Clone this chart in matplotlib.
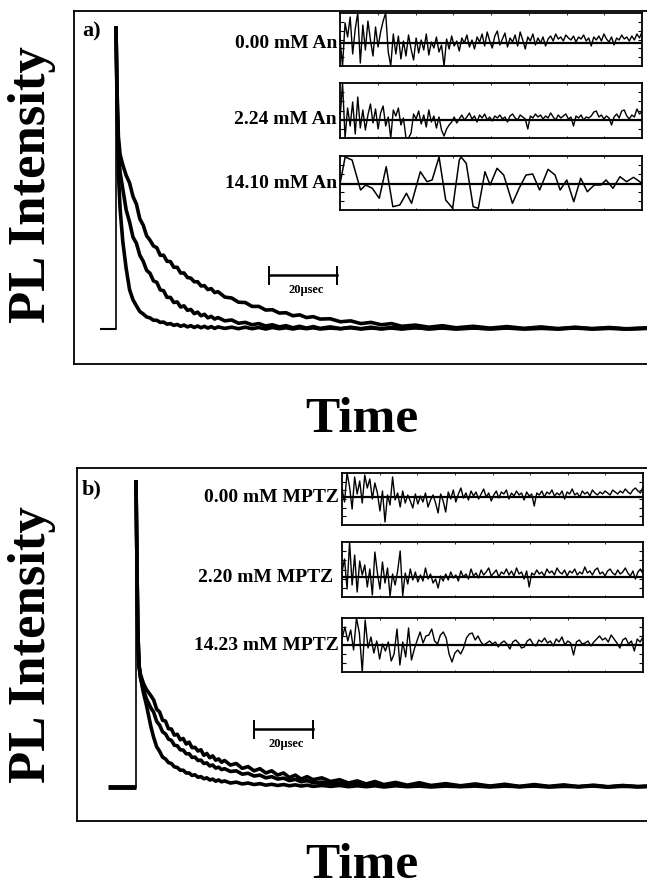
import numpy as np
import matplotlib
matplotlib.use("Agg")
import matplotlib.pyplot as plt

plt.rcParams['font.family'] = ['Liberation Serif', 'DejaVu Serif']
plt.rcParams['font.weight'] = 'bold'

W, H = 647, 890

# ---------------- data: panel a decay curves (time in usec, normalised PL) ----
a_t = ([0, 0.3, 0.7, 1.2, 2, 3, 4, 5] + list(range(6, 31)) + list(range(32, 61, 2))
       + list(range(63, 85, 3)) + [88, 92, 96, 100] + list(range(105, 151, 5)) + [157])
a_top_i = [1.0, 0.80, 0.64, 0.58, 0.545, 0.51, 0.485, 0.44,
           0.415, 0.366, 0.345, 0.31, 0.295, 0.276, 0.27, 0.245, 0.245, 0.225, 0.224, 0.205, 0.205,
           0.186, 0.186, 0.171, 0.169, 0.157, 0.157, 0.143, 0.144, 0.131, 0.134, 0.121, 0.124,
           0.106, 0.103, 0.089, 0.088, 0.075, 0.075, 0.063, 0.064, 0.053, 0.054, 0.044, 0.047, 0.038,
           0.041, 0.033,
           0.034, 0.024, 0.027, 0.018, 0.022, 0.014, 0.018, 0.009,
           0.013, 0.006, 0.011, 0.004,
           0.009, 0.003, 0.008, 0.002, 0.007, 0.001, 0.006, 0.001, 0.005, 0.0,
           0.004]
a_mid_i = [1.0, 0.78, 0.60, 0.52, 0.465, 0.395, 0.355, 0.305,
           0.285, 0.245, 0.225, 0.195, 0.185, 0.16, 0.155, 0.13, 0.127, 0.105, 0.105, 0.088, 0.09,
           0.073, 0.077, 0.062, 0.065, 0.051, 0.056, 0.044, 0.049, 0.037, 0.042, 0.033, 0.038,
           0.027, 0.03, 0.019, 0.022, 0.014, 0.018, 0.01, 0.014, 0.007, 0.011, 0.004, 0.009, 0.003,
           0.008, 0.002,
           0.007, 0.001, 0.006, 0.001, 0.006, 0.0, 0.005, 0.001,
           0.005, 0.0, 0.004, 0.001,
           0.004, 0.0, 0.004, 0.001, 0.003, 0.0, 0.004, 0.001, 0.003, 0.0,
           0.003]
a_low_i = [1.0, 0.75, 0.52, 0.40, 0.29, 0.20, 0.13, 0.097,
           0.077, 0.058, 0.05, 0.04, 0.037, 0.029, 0.029, 0.022, 0.023, 0.016, 0.018, 0.012, 0.015,
           0.009, 0.013, 0.007, 0.011, 0.005, 0.01, 0.004, 0.009, 0.003, 0.008, 0.002, 0.007,
           0.002, 0.006, 0.001, 0.006, 0.001, 0.005, 0.0, 0.005, 0.001, 0.004, 0.0, 0.004, 0.001,
           0.004, 0.0,
           0.003, 0.001, 0.004, 0.0, 0.003, 0.001, 0.003, 0.0,
           0.004, 0.001, 0.003, 0.0,
           0.003, 0.001, 0.003, 0.0, 0.002, 0.001, 0.003, 0.0, 0.002, 0.001,
           0.002]

# ---------------- data: panel b decay curves ----------------
b_t = ([0, 0.3, 0.6, 1.0, 1.5, 2.5, 3.5, 5] + list(range(6, 31)) + list(range(32, 61, 2))
       + list(range(63, 85, 3)) + [88, 92, 96, 100] + list(range(105, 171, 5)) + [175])
b_top_i = [1.0, 0.75, 0.52, 0.40, 0.37, 0.34, 0.32, 0.30,
           0.285, 0.255, 0.246, 0.219, 0.216, 0.191, 0.19, 0.17, 0.173, 0.155, 0.159, 0.141, 0.147,
           0.129, 0.13, 0.118, 0.122, 0.104, 0.11, 0.096, 0.102, 0.088, 0.092, 0.081, 0.087,
           0.072, 0.077, 0.061, 0.067, 0.053, 0.06, 0.046, 0.053, 0.039, 0.046, 0.031, 0.039, 0.026,
           0.034, 0.024,
           0.03, 0.018, 0.024, 0.013, 0.02, 0.01, 0.018, 0.008,
           0.015, 0.006, 0.014, 0.005,
           0.011, 0.004, 0.01, 0.003, 0.009, 0.002, 0.008, 0.002, 0.007, 0.001, 0.006, 0.001, 0.005, 0.001,
           0.003]
b_mid_i = [1.0, 0.75, 0.52, 0.40, 0.36, 0.32, 0.29, 0.26,
           0.245, 0.215, 0.203, 0.181, 0.174, 0.157, 0.153, 0.137, 0.135, 0.122, 0.121, 0.109, 0.109,
           0.097, 0.098, 0.087, 0.088, 0.077, 0.079, 0.069, 0.072, 0.062, 0.065, 0.057, 0.06,
           0.051, 0.053, 0.042, 0.045, 0.036, 0.039, 0.03, 0.034, 0.026, 0.029, 0.021, 0.025, 0.017,
           0.021, 0.014,
           0.016, 0.01, 0.013, 0.008, 0.011, 0.006, 0.01, 0.005,
           0.008, 0.003, 0.007, 0.003,
           0.006, 0.002, 0.006, 0.002, 0.005, 0.001, 0.005, 0.001, 0.004, 0.001, 0.004, 0.0, 0.004, 0.001,
           0.003]
b_low_i = [1.0, 0.75, 0.52, 0.40, 0.36, 0.31, 0.27, 0.20,
           0.162, 0.132, 0.117, 0.098, 0.092, 0.08, 0.077, 0.066, 0.064, 0.055, 0.055, 0.046, 0.046,
           0.038, 0.04, 0.032, 0.034, 0.027, 0.03, 0.023, 0.026, 0.019, 0.023, 0.017, 0.02,
           0.013, 0.016, 0.01, 0.013, 0.008, 0.011, 0.006, 0.009, 0.005, 0.008, 0.004, 0.007, 0.003,
           0.006, 0.002,
           0.005, 0.002, 0.005, 0.001, 0.004, 0.001, 0.004, 0.0,
           0.004, 0.001, 0.003, 0.0,
           0.003, 0.001, 0.003, 0.0, 0.003, 0.001, 0.003, 0.0, 0.002, 0.001, 0.003, 0.0, 0.002, 0.001,
           0.002]

# ---------------- residuals ----------------
a_labels = ["0.00 mM An", "2.24 mM An", "14.10 mM An"]
b_labels = ["0.00 mM MPTZ", "2.20 mM MPTZ", "14.23 mM MPTZ"]
scale_label = "20μsec"

res_a1 = [0.4, -2.3, 2.0, 0.6, 2.6, -1.1, 1.4, 3.0, -2.0, 1.8, -0.7, 2.2, 0.3, -1.3, 1.6, -0.4, 1.1, 2.2,
          3.0, -0.9, -2.3, 0.9, -1.1, 0.7, -1.6, 0.2, -1.3, 0.8, -0.6, -1.7, 0.5, -1.0, 0.3, -0.7, 0.9, -1.2,
          0.1, -0.5, 0.6, -0.9, -0.2, -2.3, 0.4, -0.6, 0.7, -0.3, 0.2, -0.8, 0.5, 0.0, 0.8, -0.4, 0.3, -0.6,
          0.6, 0.1, 0.9, -0.3, 1.1, 0.2, -0.5, 0.7, 1.2, -0.2, 0.4, 1.0, -0.4, 0.5, 0.1, 0.8, -0.3, 1.1,
          0.3, -0.6, 0.6, 0.2, 0.9, -0.2, 0.5, 0.0, 0.6, -0.3, 0.4, 0.7, 0.2, 0.9, 0.4, 0.6, 0.2, 0.8,
          0.5, 0.3, 0.7, 0.1, 0.6, 0.4, 0.8, 0.2, 0.5, -0.3, 0.6, 0.3, 0.7, 0.2, 0.9, 0.4, 0.1, 0.6,
          -0.2, 0.5, 0.3, 0.8, 0.4, 0.6, 0.2, 0.7, 0.3, 0.9, 0.5, 1.1]
res_a2 = [0.0, 3.7, -1.8, 1.2, -0.6, 1.8, -1.4, 2.3, -0.8, 1.0, -1.0, 0.5, 1.6, -0.3, 1.1, -0.9, 0.7, 1.4,
          -0.6, 0.3, -1.8, 1.0, 0.4, 1.2, -0.5, 0.2, -1.8, -1.8, -1.3, 0.6, 0.1, 0.9, -0.4, 0.5, -0.7, 1.0,
          -0.2, 0.4, -0.8, 0.3, -1.0, -1.6, -0.9, -0.5, -0.2, 0.3, -0.3, 0.1, 0.5, 0.0, 0.3, 0.7, 0.1, 0.4,
          -0.2, 0.5, 0.2, 0.6, 0.0, 0.3, -0.1, 0.4, 0.2, 0.5, 0.1, 0.3, -0.2, 0.4, 0.6, 0.2, 0.0, 0.5,
          0.3, 0.1, -0.9, 0.4, 0.2, 0.6, 0.3, 0.5, 0.1, 0.4, 0.2, 0.7, 0.3, 0.0, 0.5, 0.2, 0.4, 0.6,
          0.1, 0.3, -0.6, 0.4, 0.2, 0.5, 0.0, 0.3, 0.2, 0.4, 0.8, 0.9, 0.3, 0.5, 0.1, 0.4, 0.2, -0.5,
          0.3, 0.6, 0.2, 0.9, 1.0, 0.4, 0.1, 0.5, 0.3, 1.1, 0.6, 0.8]
res_a3_x = [0, 0.017, 0.040, 0.068, 0.085, 0.107, 0.130, 0.153, 0.175, 0.198, 0.220, 0.237, 0.266, 0.288,
            0.305, 0.328, 0.350, 0.373, 0.395, 0.401, 0.418, 0.441, 0.458, 0.480, 0.497, 0.520, 0.542,
            0.571, 0.593, 0.616, 0.638, 0.661, 0.689, 0.712, 0.729, 0.751, 0.774, 0.797, 0.819, 0.842,
            0.864, 0.881, 0.904, 0.927, 0.949, 0.972, 1.0]
res_a3 = [0.0, 2.7, 2.4, -0.6, -0.1, -0.43, -1.43, 1.73, -2.27, -2.1, -0.93, -1.93, 1.23, 0.23,
          0.4, 2.7, -1.6, -2.43, 2.4, 2.7, 2.07, -2.27, -2.43, 1.23, -0.1, 1.57, 0.9,
          -1.93, -0.43, 0.9, 1.0, -0.6, 1.47, 0.9, -0.6, 0.4, -1.77, 0.57, -0.77, -0.1,
          -0.1, 0.4, -0.43, 0.73, 0.23, 0.67, 0.07]
res_b1 = [0.8, -0.5, 2.4, 1.0, -1.2, 2.0, 0.3, 1.6, -0.6, 2.2, 0.9, 1.8, -0.2, 1.4, 0.4, -1.4, 0.6, -2.5,
          0.2, -0.8, 2.0, -0.3, 0.4, -1.0, 0.6, -0.6, 0.2, -0.4, -1.1, 0.3, -0.7, 0.1, -0.5, 0.4, -1.0,
          -0.3, 0.2, -0.6, -1.6, 0.3, -0.4, -1.5, 0.5, -0.2, 0.7, -0.5, 0.3, 0.9, -0.1, 0.4, -0.3, 0.6,
          0.1, 0.5, -0.2, 0.3, 0.8, 0.0, 0.4, -0.4, 0.2, 0.6, -0.1, 0.5, 0.3, 0.7, -0.2, 0.4, 0.1, 0.6,
          0.2, 0.4, -0.3, 0.5, 0.1, 0.3, -0.9, 0.4, 0.2, 0.6, 0.0, 0.5, 0.3, 0.7, 0.1, 0.4, 0.2, 0.6,
          -0.2, 0.5, 0.3, 0.8, 0.2, 0.4, 0.0, 0.6, 0.3, 0.5, 0.1, 0.7, 0.4, 0.2, 0.5, 0.3, 0.6, 0.4,
          0.2, 0.7, 0.5, 0.3, 0.6, 0.4, 0.8, 0.5, 0.3, 0.7, 0.9, 0.6, 0.4, 1.0]
res_b2 = [0.5, 1.8, -1.2, 3.5, -0.8, 2.2, -1.5, 1.6, 0.2, 1.2, -1.0, 0.8, -1.8, 2.5, 0.4, -1.2, 1.5, -0.6,
          0.9, -1.9, 0.3, -0.8, 0.6, 2.6, -1.9, 0.4, -0.7, 0.8, -0.3, 0.5, -0.5, 0.2, -0.4, 0.9, -0.2,
          0.3, -0.6, -0.2, -1.1, 0.1, -0.4, 0.3, -0.3, 0.5, -0.1, 0.2, -0.4, 0.6, 0.0, 0.3, -0.2, 0.8,
          0.1, 0.4, -0.1, 0.7, 0.2, 0.5, 0.9, 0.1, 0.4, 0.7, 0.0, 0.5, 0.3, 0.8, 0.2, 0.6, 0.1, 0.9,
          0.3, 0.5, -0.2, 0.6, -1.0, 0.4, 0.2, 0.7, 0.3, 0.5, 0.1, 0.8, 0.4, 0.6, 0.2, 0.9, 0.5, 0.3,
          0.7, 0.1, 0.6, 0.4, 0.8, 0.2, 0.5, 0.3, 1.0, 0.4, 0.6, 0.2, 0.7, 0.9, 0.3, 0.5, 0.1, 0.6,
          0.8, 0.4, 0.2, 0.7, 0.3, 0.5, 0.9, 0.4, 0.1, 0.6, -0.2, 0.5, 0.8, 0.3]
res_b3 = [0.6, 1.8, 0.4, 1.5, -0.5, 2.7, 1.2, -2.7, 2.5, -0.3, 0.8, -0.8, 0.4, -1.4, 0.1, -0.6, 0.3, -1.6,
          -0.9, 1.6, -2.0, 0.3, -1.2, 1.7, -1.5, -0.4, 0.5, 1.3, 0.2, 0.9, 1.0, 1.6, 0.4, 0.1, 1.0, 1.3,
          0.7, -0.9, -1.7, -0.8, -0.5, -0.9, -0.3, 0.7, 1.1, 1.2, 0.5, 0.9, 0.3, 0.0, 0.2, 0.4, 0.1, 0.3,
          -0.2, 0.2, 0.4, 0.1, -0.4, 0.3, 0.5, 0.2, -0.3, -0.2, 0.4, 0.6, 0.1, -0.1, 0.5, 0.3, 0.7, 0.2,
          0.4, -0.1, 0.6, 0.3, 0.8, 0.0, 0.4, 0.2, -1.0, 0.3, 0.5, 0.1, 0.2, 0.4, -0.1, 0.3, 0.6, 0.9,
          0.5, 0.7, 0.3, 1.0, 0.6, 0.2, -0.3, 0.5, 0.7, 0.1, 0.4, -0.6, 0.6, 0.3, 0.8]

fig = plt.figure(figsize=(W / 100, H / 100), dpi=100)


def fr(x0, y0, x1, y1):
    """pixel box -> figure fraction rect"""
    return [x0 / W, 1 - y1 / H, (x1 - x0) / W, (y1 - y0) / H]


def main_panel(rect, xlim, ylim, t, curves, pre_t, pre_lw, bar, label, label_xy):
    ax = fig.add_axes(rect)
    ax.set_xlim(*xlim)
    ax.set_ylim(*ylim)
    ax.set_xticks([])
    ax.set_yticks([])
    for s in ax.spines.values():
        s.set_linewidth(1.3)
    ax.plot([pre_t, 0], [0, 0], color='black', lw=pre_lw, solid_capstyle='butt')
    ax.plot([0, 0], [0, 1.0], color='black', lw=1.2)
    for i in curves:
        ax.plot(t, i, color='black', lw=2.6, solid_joinstyle='round')
    (b0, b1, by) = bar
    ax.plot([b0, b1], [by, by], color='black', lw=1.8)
    for bx in (b0, b1):
        ax.plot([bx, bx], [by - 0.03, by + 0.025], color='black', lw=1.4)
    ax.text((b0 + b1) / 2 + 1, by - 0.05, scale_label, ha='center', va='center',
            fontsize=9, fontweight='bold')
    fig.text(label_xy[0] / W, 1 - label_xy[1] / H, label, fontsize=16,
             fontweight='bold', ha='left', va='center')
    return ax


def inset(box, ylim, x, r, label, label_right, smooth=False):
    x0, y0, x1, y1 = box
    ax = fig.add_axes(fr(x0, y0, x1, y1))
    ax.set_xlim(0, 1)
    ax.set_ylim(*ylim)
    ax.axhline(0, color='black', lw=1.6)
    ax.plot(x, r, color='black', lw=1.1 if smooth else 1.0)
    ax.set_yticks(np.linspace(ylim[0], ylim[1], 7)[1:-1])
    ax.set_xticks(np.linspace(0, 1, 9)[1:-1])
    ax.tick_params(axis='y', direction='in', length=3, width=0.8, left=True, right=True,
                   labelleft=False, labelright=False)
    ax.tick_params(axis='x', direction='in', length=1.5, width=0.6, top=True, bottom=True,
                   labelbottom=False)
    for s in ax.spines.values():
        s.set_linewidth(1.3)
    zero_px = y0 + (y1 - y0) * ylim[1] / (ylim[1] - ylim[0])
    fig.text(label_right / W, 1 - zero_px / H, label, fontsize=14, fontweight='bold',
             ha='right', va='center')
    return ax


# ---------- panel a ----------
main_panel(fr(74, 11, 652, 364), (-12.35, 157.6), (-0.1163, 1.0565), a_t,
           [a_top_i, a_mid_i, a_low_i], -4.7, 1.5, (45.0, 65.0, 0.18), "a)", (82, 31))
inset((340, 13, 642, 66), (-2.3, 3.0), np.linspace(0, 1, len(res_a1)), res_a1, a_labels[0], 337)
inset((340, 83, 642, 138), (-1.8, 3.7), np.linspace(0, 1, len(res_a2)), res_a2, a_labels[1], 337)
inset((340, 156, 642, 210), (-2.6, 2.8), res_a3_x, res_a3, a_labels[2], 337, smooth=True)

# ---------- panel b ----------
main_panel(fr(77, 468, 652, 821), (-20.0, 174.9), (-0.1115, 1.046), b_t,
           [b_top_i, b_mid_i, b_low_i], -9.5, 3.5, (40.0, 60.0, 0.19), "b)", (82, 489))
inset((342, 473, 643, 525), (-2.8, 2.4), np.linspace(0, 1, len(res_b1)), res_b1, b_labels[0], 339)
inset((342, 542, 643, 597), (-2.0, 3.5), np.linspace(0, 1, len(res_b2)), res_b2, b_labels[1], 333)
inset((342, 618, 643, 672), (-2.7, 2.7), np.linspace(0, 1, len(res_b3)), res_b3, b_labels[2], 339)

# ---------- axis titles ----------
for yc in (185, 645):
    fig.text(32 / W, 1 - yc / H, "PL Intensity", rotation=90, fontsize=38,
             fontweight='bold', ha='center', va='center')
for yc in (420, 866):
    fig.text(362 / W, 1 - yc / H, "Time", fontsize=37, fontweight='bold',
             ha='center', va='center')

fig.savefig("out.png", dpi=100)
